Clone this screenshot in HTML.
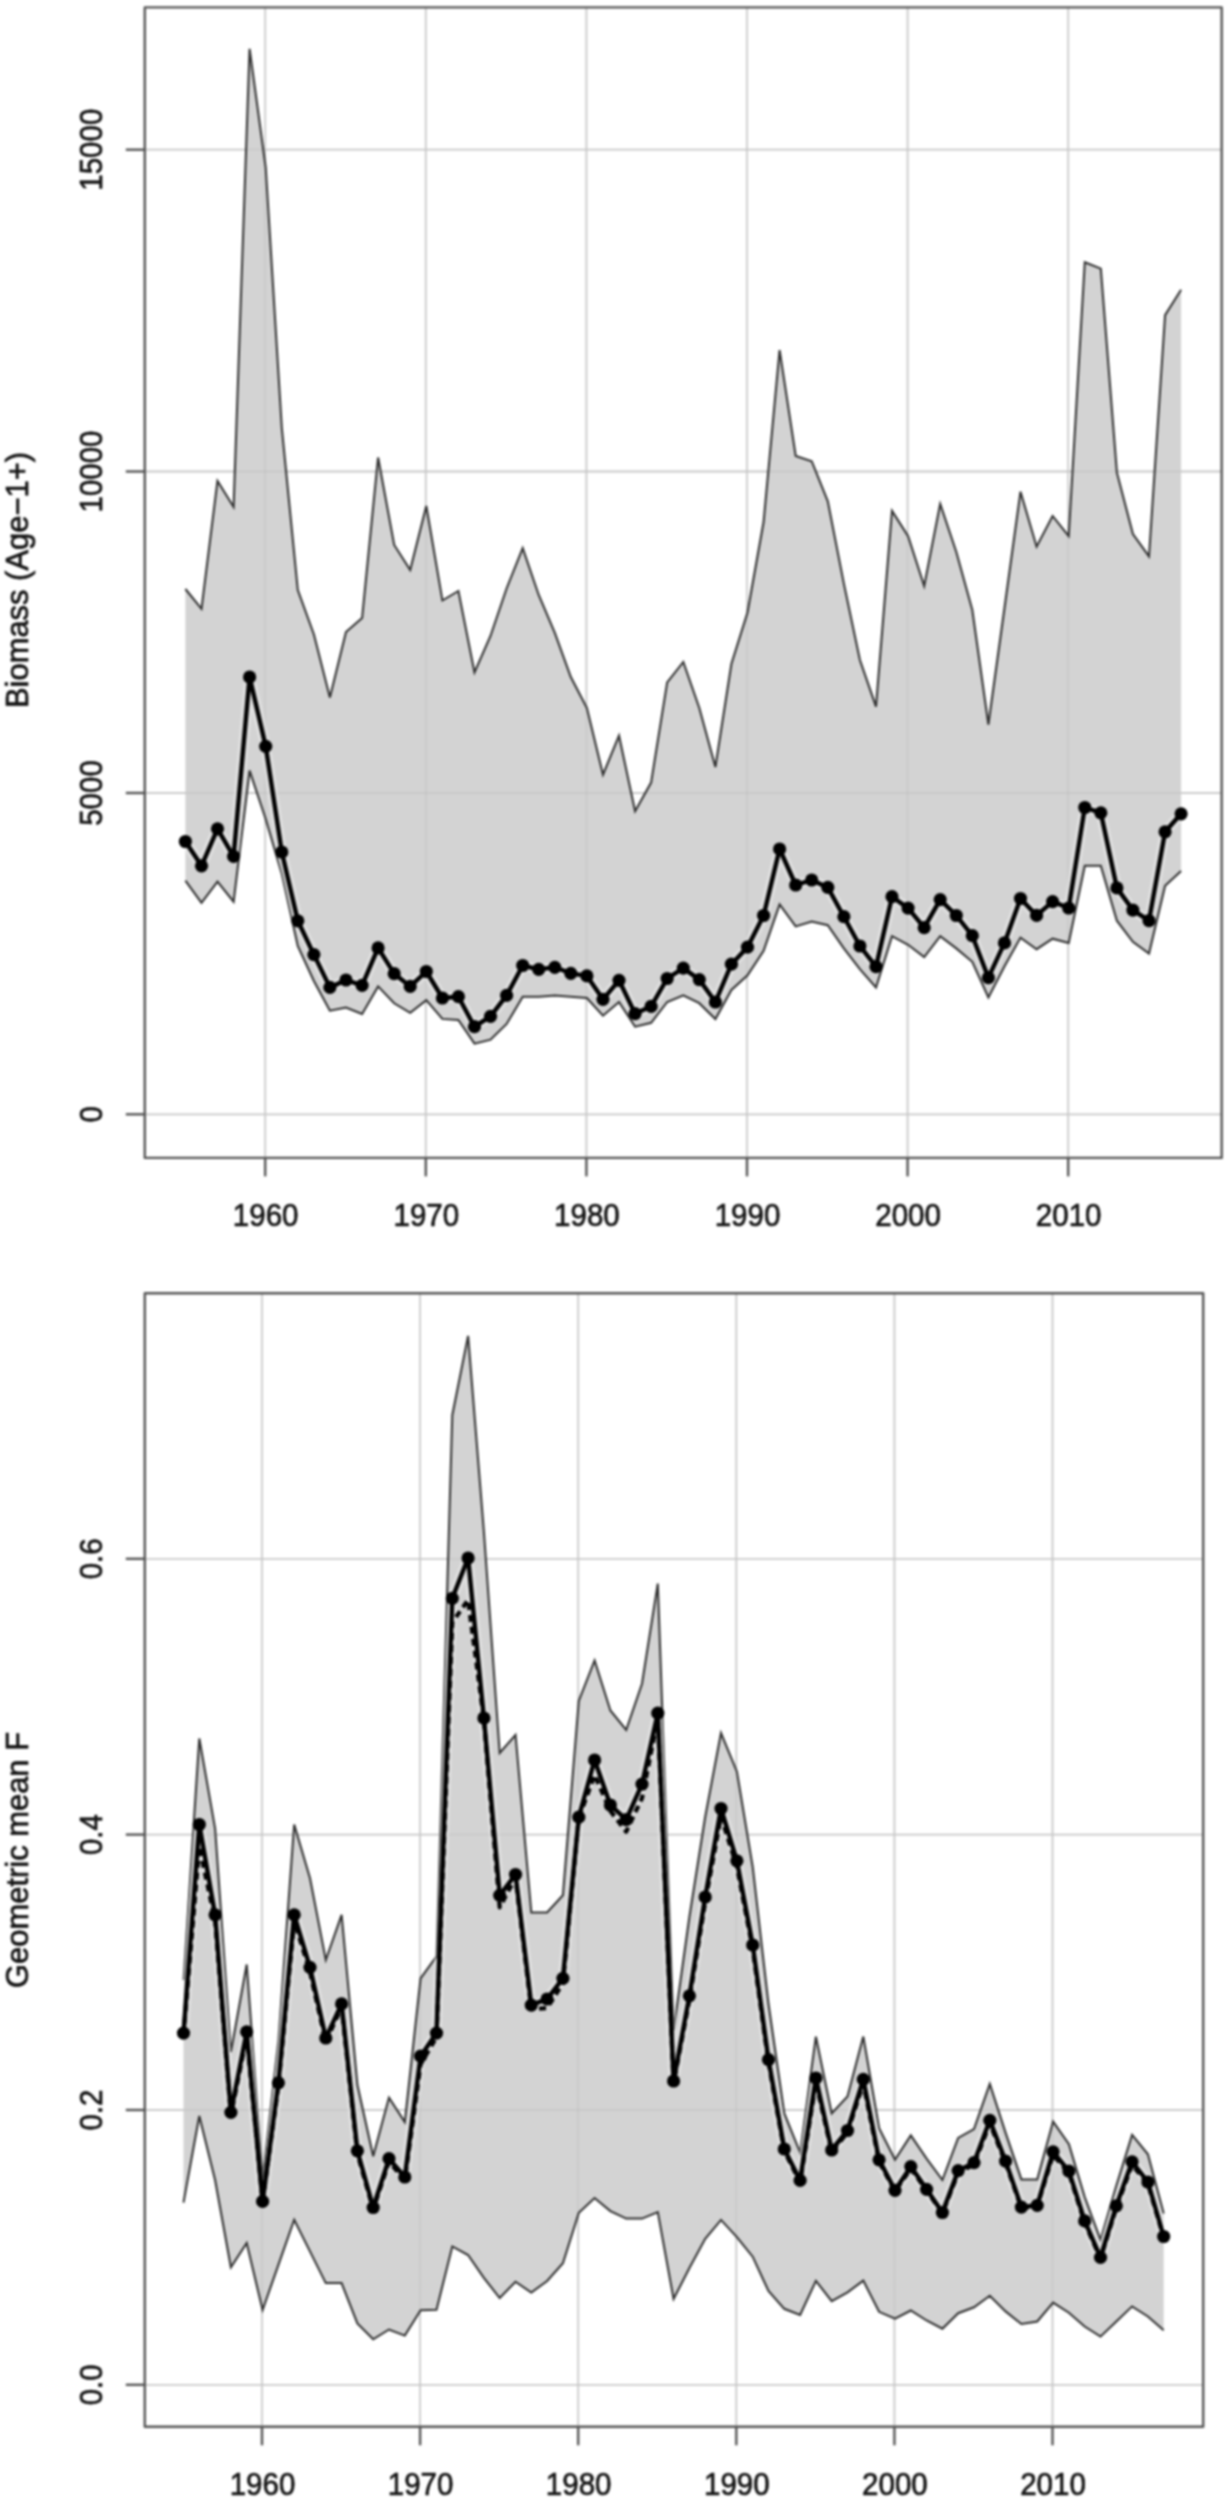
<!DOCTYPE html>
<html lang="en"><head><meta charset="utf-8"><title>Biomass and geometric mean F</title>
<style>
html,body{margin:0;padding:0;background:#fff;}
body{width:1229px;height:2500px;overflow:hidden;}
svg{display:block;filter:blur(0.9px);}
text{font-family:"Liberation Sans", Arial, Helvetica, sans-serif;font-size:31.4px;fill:#141414;stroke:#141414;stroke-width:0.7px;}
.yl{font-size:31.4px;}
.ax{stroke:#555555;stroke-width:2.4;stroke-linejoin:round;stroke-linecap:butt;fill:none;}
.grid{stroke:#dadada;stroke-width:1.8;fill:none;}
.band{fill:#d3d3d3;stroke:none;}
.thin{stroke:#2e2e2e;stroke-width:2.0;fill:none;stroke-linejoin:miter;}
.main{stroke:#000;stroke-width:3.1;fill:none;stroke-linejoin:round;}
.dash{stroke:#000;stroke-width:4.2;fill:none;stroke-dasharray:7 5;stroke-linejoin:round;}
.dot{fill:#000;}
</style></head><body>
<svg width="1229" height="2500" viewBox="0 0 1229 2500">
<rect x="0" y="0" width="1229" height="2500" fill="#ffffff"/>

<line class="grid" x1="265.2" y1="7.4" x2="265.2" y2="1157.9"/>
<line class="grid" x1="425.8" y1="7.4" x2="425.8" y2="1157.9"/>
<line class="grid" x1="586.4" y1="7.4" x2="586.4" y2="1157.9"/>
<line class="grid" x1="747.0" y1="7.4" x2="747.0" y2="1157.9"/>
<line class="grid" x1="907.6" y1="7.4" x2="907.6" y2="1157.9"/>
<line class="grid" x1="1068.2" y1="7.4" x2="1068.2" y2="1157.9"/>
<line class="grid" x1="144.8" y1="149.7" x2="1221.7" y2="149.7"/>
<line class="grid" x1="144.8" y1="471.5" x2="1221.7" y2="471.5"/>
<line class="grid" x1="144.8" y1="793" x2="1221.7" y2="793"/>
<line class="grid" x1="144.8" y1="1114.3" x2="1221.7" y2="1114.3"/>
<polygon class="band" points="185.4,589.0 201.5,608.8 217.5,481.0 233.6,507.0 249.6,48.9 265.7,167.5 281.8,428.0 297.8,590.0 313.9,634.5 329.9,697.6 346.0,632.0 362.1,618.0 378.1,457.5 394.2,545.0 410.2,570.0 426.3,506.0 442.4,600.5 458.4,591.0 474.5,672.5 490.5,636.0 506.6,588.5 522.7,548.2 538.7,595.0 554.8,632.8 570.8,677.0 586.9,708.0 603.0,774.7 619.0,735.7 635.1,811.2 651.1,782.6 667.2,682.3 683.3,662.0 699.3,708.0 715.4,767.0 731.4,664.0 747.5,612.5 763.6,522.0 779.6,350.1 795.7,455.9 811.7,461.2 827.8,501.4 843.9,583.9 859.9,660.0 876.0,706.6 892.0,510.9 908.1,536.3 924.2,586.0 940.2,503.9 956.3,552.0 972.3,610.0 988.4,724.5 1004.5,608.0 1020.5,491.7 1036.6,546.7 1052.6,516.0 1068.7,536.2 1084.8,262.2 1100.8,268.6 1116.9,472.7 1132.9,534.0 1149.0,556.3 1165.1,315.1 1181.1,289.7 1181.1,871.0 1165.1,885.8 1149.0,953.5 1132.9,941.8 1116.9,920.7 1100.8,865.7 1084.8,865.7 1068.7,942.9 1052.6,938.7 1036.6,949.2 1020.5,937.6 1004.5,966.2 988.4,997.5 972.3,961.8 956.3,948.4 940.2,936.2 924.2,957.0 908.1,944.8 892.0,936.2 876.0,987.5 859.9,969.2 843.9,948.4 827.8,925.2 811.7,921.6 795.7,926.4 779.6,904.5 763.6,950.9 747.5,975.3 731.4,990.0 715.4,1019.0 699.3,1003.2 683.3,995.4 667.2,1002.0 651.1,1022.8 635.1,1026.7 619.0,1002.0 603.0,1015.7 586.9,998.0 570.8,996.7 554.8,995.4 538.7,996.7 522.7,996.7 506.6,1024.0 490.5,1039.7 474.5,1043.6 458.4,1020.0 442.4,1018.9 426.3,1000.2 410.2,1012.8 394.2,1003.3 378.1,986.4 362.1,1013.9 346.0,1007.5 329.9,1010.7 313.9,981.0 297.8,946.0 281.8,874.0 265.7,819.0 249.6,770.6 233.6,901.7 217.5,881.6 201.5,902.8 185.4,880.6"/>
<line x1="265.2" y1="7.4" x2="265.2" y2="1157.9" stroke="#c0c0c0" stroke-width="1.8" opacity="0.5"/>
<line x1="425.8" y1="7.4" x2="425.8" y2="1157.9" stroke="#c0c0c0" stroke-width="1.8" opacity="0.5"/>
<line x1="586.4" y1="7.4" x2="586.4" y2="1157.9" stroke="#c0c0c0" stroke-width="1.8" opacity="0.5"/>
<line x1="747.0" y1="7.4" x2="747.0" y2="1157.9" stroke="#c0c0c0" stroke-width="1.8" opacity="0.5"/>
<line x1="907.6" y1="7.4" x2="907.6" y2="1157.9" stroke="#c0c0c0" stroke-width="1.8" opacity="0.5"/>
<line x1="1068.2" y1="7.4" x2="1068.2" y2="1157.9" stroke="#c0c0c0" stroke-width="1.8" opacity="0.5"/>
<line x1="144.8" y1="149.7" x2="1221.7" y2="149.7" stroke="#c0c0c0" stroke-width="1.8" opacity="0.5"/>
<line x1="144.8" y1="471.5" x2="1221.7" y2="471.5" stroke="#c0c0c0" stroke-width="1.8" opacity="0.5"/>
<line x1="144.8" y1="793" x2="1221.7" y2="793" stroke="#c0c0c0" stroke-width="1.8" opacity="0.5"/>
<line x1="144.8" y1="1114.3" x2="1221.7" y2="1114.3" stroke="#c0c0c0" stroke-width="1.8" opacity="0.5"/>
<polyline class="thin" points="185.4,589.0 201.5,608.8 217.5,481.0 233.6,507.0 249.6,48.9 265.7,167.5 281.8,428.0 297.8,590.0 313.9,634.5 329.9,697.6 346.0,632.0 362.1,618.0 378.1,457.5 394.2,545.0 410.2,570.0 426.3,506.0 442.4,600.5 458.4,591.0 474.5,672.5 490.5,636.0 506.6,588.5 522.7,548.2 538.7,595.0 554.8,632.8 570.8,677.0 586.9,708.0 603.0,774.7 619.0,735.7 635.1,811.2 651.1,782.6 667.2,682.3 683.3,662.0 699.3,708.0 715.4,767.0 731.4,664.0 747.5,612.5 763.6,522.0 779.6,350.1 795.7,455.9 811.7,461.2 827.8,501.4 843.9,583.9 859.9,660.0 876.0,706.6 892.0,510.9 908.1,536.3 924.2,586.0 940.2,503.9 956.3,552.0 972.3,610.0 988.4,724.5 1004.5,608.0 1020.5,491.7 1036.6,546.7 1052.6,516.0 1068.7,536.2 1084.8,262.2 1100.8,268.6 1116.9,472.7 1132.9,534.0 1149.0,556.3 1165.1,315.1 1181.1,289.7"/>
<polyline class="thin" points="185.4,880.6 201.5,902.8 217.5,881.6 233.6,901.7 249.6,770.6 265.7,819.0 281.8,874.0 297.8,946.0 313.9,981.0 329.9,1010.7 346.0,1007.5 362.1,1013.9 378.1,986.4 394.2,1003.3 410.2,1012.8 426.3,1000.2 442.4,1018.9 458.4,1020.0 474.5,1043.6 490.5,1039.7 506.6,1024.0 522.7,996.7 538.7,996.7 554.8,995.4 570.8,996.7 586.9,998.0 603.0,1015.7 619.0,1002.0 635.1,1026.7 651.1,1022.8 667.2,1002.0 683.3,995.4 699.3,1003.2 715.4,1019.0 731.4,990.0 747.5,975.3 763.6,950.9 779.6,904.5 795.7,926.4 811.7,921.6 827.8,925.2 843.9,948.4 859.9,969.2 876.0,987.5 892.0,936.2 908.1,944.8 924.2,957.0 940.2,936.2 956.3,948.4 972.3,961.8 988.4,997.5 1004.5,966.2 1020.5,937.6 1036.6,949.2 1052.6,938.7 1068.7,942.9 1084.8,865.7 1100.8,865.7 1116.9,920.7 1132.9,941.8 1149.0,953.5 1165.1,885.8 1181.1,871.0"/>
<polyline points="185.4,841.5 201.5,865.8 217.5,828.8 233.6,856.3 249.6,677.0 265.7,746.3 281.8,852.0 297.8,920.8 313.9,954.6 329.9,987.4 346.0,980.0 362.1,985.3 378.1,947.9 394.2,973.7 410.2,986.4 426.3,971.5 442.4,998.0 458.4,996.7 474.5,1026.7 490.5,1016.3 506.6,995.4 522.7,965.5 538.7,969.4 554.8,967.3 570.8,973.3 586.9,975.9 603.0,999.3 619.0,980.3 635.1,1013.6 651.1,1006.4 667.2,978.5 683.3,968.1 699.3,979.6 715.4,1002.0 731.4,964.2 747.5,947.2 763.6,915.5 779.6,849.0 795.7,885.0 811.7,880.0 827.8,887.4 843.9,916.7 859.9,946.0 876.0,966.7 892.0,896.7 908.1,908.1 924.2,927.7 940.2,899.6 956.3,915.5 972.3,935.7 988.4,977.7 1004.5,942.9 1020.5,898.5 1036.6,915.4 1052.6,901.6 1068.7,908.0 1084.8,807.5 1100.8,812.8 1116.9,887.9 1132.9,910.1 1149.0,920.7 1165.1,831.8 1181.1,813.8" fill="none" stroke="#ffffff" stroke-opacity="0.28" stroke-width="11" stroke-linejoin="round"/>
<polyline class="main" style="stroke-width:4.4" points="185.4,841.5 201.5,865.8 217.5,828.8 233.6,856.3 249.6,677.0 265.7,746.3 281.8,852.0 297.8,920.8 313.9,954.6 329.9,987.4 346.0,980.0 362.1,985.3 378.1,947.9 394.2,973.7 410.2,986.4 426.3,971.5 442.4,998.0 458.4,996.7 474.5,1026.7 490.5,1016.3 506.6,995.4 522.7,965.5 538.7,969.4 554.8,967.3 570.8,973.3 586.9,975.9 603.0,999.3 619.0,980.3 635.1,1013.6 651.1,1006.4 667.2,978.5 683.3,968.1 699.3,979.6 715.4,1002.0 731.4,964.2 747.5,947.2 763.6,915.5 779.6,849.0 795.7,885.0 811.7,880.0 827.8,887.4 843.9,916.7 859.9,946.0 876.0,966.7 892.0,896.7 908.1,908.1 924.2,927.7 940.2,899.6 956.3,915.5 972.3,935.7 988.4,977.7 1004.5,942.9 1020.5,898.5 1036.6,915.4 1052.6,901.6 1068.7,908.0 1084.8,807.5 1100.8,812.8 1116.9,887.9 1132.9,910.1 1149.0,920.7 1165.1,831.8 1181.1,813.8"/>
<circle class="dot" cx="185.4" cy="841.5" r="6.6"/>
<circle class="dot" cx="201.5" cy="865.8" r="6.6"/>
<circle class="dot" cx="217.5" cy="828.8" r="6.6"/>
<circle class="dot" cx="233.6" cy="856.3" r="6.6"/>
<circle class="dot" cx="249.6" cy="677.0" r="6.6"/>
<circle class="dot" cx="265.7" cy="746.3" r="6.6"/>
<circle class="dot" cx="281.8" cy="852.0" r="6.6"/>
<circle class="dot" cx="297.8" cy="920.8" r="6.6"/>
<circle class="dot" cx="313.9" cy="954.6" r="6.6"/>
<circle class="dot" cx="329.9" cy="987.4" r="6.6"/>
<circle class="dot" cx="346.0" cy="980.0" r="6.6"/>
<circle class="dot" cx="362.1" cy="985.3" r="6.6"/>
<circle class="dot" cx="378.1" cy="947.9" r="6.6"/>
<circle class="dot" cx="394.2" cy="973.7" r="6.6"/>
<circle class="dot" cx="410.2" cy="986.4" r="6.6"/>
<circle class="dot" cx="426.3" cy="971.5" r="6.6"/>
<circle class="dot" cx="442.4" cy="998.0" r="6.6"/>
<circle class="dot" cx="458.4" cy="996.7" r="6.6"/>
<circle class="dot" cx="474.5" cy="1026.7" r="6.6"/>
<circle class="dot" cx="490.5" cy="1016.3" r="6.6"/>
<circle class="dot" cx="506.6" cy="995.4" r="6.6"/>
<circle class="dot" cx="522.7" cy="965.5" r="6.6"/>
<circle class="dot" cx="538.7" cy="969.4" r="6.6"/>
<circle class="dot" cx="554.8" cy="967.3" r="6.6"/>
<circle class="dot" cx="570.8" cy="973.3" r="6.6"/>
<circle class="dot" cx="586.9" cy="975.9" r="6.6"/>
<circle class="dot" cx="603.0" cy="999.3" r="6.6"/>
<circle class="dot" cx="619.0" cy="980.3" r="6.6"/>
<circle class="dot" cx="635.1" cy="1013.6" r="6.6"/>
<circle class="dot" cx="651.1" cy="1006.4" r="6.6"/>
<circle class="dot" cx="667.2" cy="978.5" r="6.6"/>
<circle class="dot" cx="683.3" cy="968.1" r="6.6"/>
<circle class="dot" cx="699.3" cy="979.6" r="6.6"/>
<circle class="dot" cx="715.4" cy="1002.0" r="6.6"/>
<circle class="dot" cx="731.4" cy="964.2" r="6.6"/>
<circle class="dot" cx="747.5" cy="947.2" r="6.6"/>
<circle class="dot" cx="763.6" cy="915.5" r="6.6"/>
<circle class="dot" cx="779.6" cy="849.0" r="6.6"/>
<circle class="dot" cx="795.7" cy="885.0" r="6.6"/>
<circle class="dot" cx="811.7" cy="880.0" r="6.6"/>
<circle class="dot" cx="827.8" cy="887.4" r="6.6"/>
<circle class="dot" cx="843.9" cy="916.7" r="6.6"/>
<circle class="dot" cx="859.9" cy="946.0" r="6.6"/>
<circle class="dot" cx="876.0" cy="966.7" r="6.6"/>
<circle class="dot" cx="892.0" cy="896.7" r="6.6"/>
<circle class="dot" cx="908.1" cy="908.1" r="6.6"/>
<circle class="dot" cx="924.2" cy="927.7" r="6.6"/>
<circle class="dot" cx="940.2" cy="899.6" r="6.6"/>
<circle class="dot" cx="956.3" cy="915.5" r="6.6"/>
<circle class="dot" cx="972.3" cy="935.7" r="6.6"/>
<circle class="dot" cx="988.4" cy="977.7" r="6.6"/>
<circle class="dot" cx="1004.5" cy="942.9" r="6.6"/>
<circle class="dot" cx="1020.5" cy="898.5" r="6.6"/>
<circle class="dot" cx="1036.6" cy="915.4" r="6.6"/>
<circle class="dot" cx="1052.6" cy="901.6" r="6.6"/>
<circle class="dot" cx="1068.7" cy="908.0" r="6.6"/>
<circle class="dot" cx="1084.8" cy="807.5" r="6.6"/>
<circle class="dot" cx="1100.8" cy="812.8" r="6.6"/>
<circle class="dot" cx="1116.9" cy="887.9" r="6.6"/>
<circle class="dot" cx="1132.9" cy="910.1" r="6.6"/>
<circle class="dot" cx="1149.0" cy="920.7" r="6.6"/>
<circle class="dot" cx="1165.1" cy="831.8" r="6.6"/>
<circle class="dot" cx="1181.1" cy="813.8" r="6.6"/>
<rect class="ax" x="144.8" y="7.4" width="1076.9" height="1150.5"/>
<line class="ax" x1="265.2" y1="1157.9" x2="265.2" y2="1176.4"/>
<text transform="translate(265.7,1225.9) scale(0.94,1)" text-anchor="middle">1960</text>
<line class="ax" x1="425.8" y1="1157.9" x2="425.8" y2="1176.4"/>
<text transform="translate(426.3,1225.9) scale(0.94,1)" text-anchor="middle">1970</text>
<line class="ax" x1="586.4" y1="1157.9" x2="586.4" y2="1176.4"/>
<text transform="translate(586.9,1225.9) scale(0.94,1)" text-anchor="middle">1980</text>
<line class="ax" x1="747.0" y1="1157.9" x2="747.0" y2="1176.4"/>
<text transform="translate(747.5,1225.9) scale(0.94,1)" text-anchor="middle">1990</text>
<line class="ax" x1="907.6" y1="1157.9" x2="907.6" y2="1176.4"/>
<text transform="translate(908.1,1225.9) scale(0.94,1)" text-anchor="middle">2000</text>
<line class="ax" x1="1068.2" y1="1157.9" x2="1068.2" y2="1176.4"/>
<text transform="translate(1068.7,1225.9) scale(0.94,1)" text-anchor="middle">2010</text>
<line class="ax" x1="125.80000000000001" y1="149.7" x2="144.8" y2="149.7"/>
<text transform="translate(102,149.7) rotate(-90) scale(0.94,1)" text-anchor="middle">15000</text>
<line class="ax" x1="125.80000000000001" y1="471.5" x2="144.8" y2="471.5"/>
<text transform="translate(102,471.5) rotate(-90) scale(0.94,1)" text-anchor="middle">10000</text>
<line class="ax" x1="125.80000000000001" y1="793" x2="144.8" y2="793"/>
<text transform="translate(102,793) rotate(-90) scale(0.94,1)" text-anchor="middle">5000</text>
<line class="ax" x1="125.80000000000001" y1="1114.3" x2="144.8" y2="1114.3"/>
<text transform="translate(102,1114.3) rotate(-90) scale(0.94,1)" text-anchor="middle">0</text>
<text class="yl" transform="translate(27.8,580) rotate(-90) scale(0.985,1)" text-anchor="middle">Biomass (Age−1+)</text>
<line class="grid" x1="262.0" y1="1293.3" x2="262.0" y2="2426.8"/>
<line class="grid" x1="420.1" y1="1293.3" x2="420.1" y2="2426.8"/>
<line class="grid" x1="578.2" y1="1293.3" x2="578.2" y2="2426.8"/>
<line class="grid" x1="736.3" y1="1293.3" x2="736.3" y2="2426.8"/>
<line class="grid" x1="894.4" y1="1293.3" x2="894.4" y2="2426.8"/>
<line class="grid" x1="1052.5" y1="1293.3" x2="1052.5" y2="2426.8"/>
<line class="grid" x1="144.8" y1="1558.8" x2="1203.2" y2="1558.8"/>
<line class="grid" x1="144.8" y1="1834.6" x2="1203.2" y2="1834.6"/>
<line class="grid" x1="144.8" y1="2110" x2="1203.2" y2="2110"/>
<line class="grid" x1="144.8" y1="2384.8" x2="1203.2" y2="2384.8"/>
<polygon class="band" points="183.5,1980.0 199.3,1738.5 215.1,1828.5 230.9,2052.0 246.7,1964.5 262.6,2178.0 278.4,2040.0 294.2,1824.5 310.0,1878.2 325.8,1960.0 341.6,1914.8 357.4,2085.0 373.2,2156.2 389.0,2097.6 404.8,2122.0 420.6,1978.3 436.5,1956.3 452.3,1415.2 468.1,1335.9 483.9,1532.0 499.7,1753.0 515.5,1735.0 531.3,1912.4 547.1,1912.4 562.9,1895.3 578.8,1701.0 594.6,1660.5 610.4,1710.5 626.2,1730.0 642.0,1683.7 657.8,1583.6 673.6,2030.0 689.4,1917.0 705.2,1817.0 721.0,1733.0 736.9,1771.7 752.7,1867.0 768.5,2004.0 784.3,2113.4 800.1,2152.5 815.9,2036.6 831.7,2113.4 847.5,2096.4 863.3,2036.6 879.1,2128.1 895.0,2159.8 910.8,2135.4 926.6,2158.6 942.4,2180.0 958.2,2138.0 974.0,2129.1 989.8,2083.9 1005.6,2132.9 1021.4,2179.4 1037.2,2179.4 1053.1,2121.6 1068.9,2144.2 1084.7,2197.0 1100.5,2239.8 1116.3,2185.7 1132.1,2134.9 1147.9,2154.3 1163.7,2213.4 1163.7,2330.3 1147.9,2316.5 1132.1,2306.4 1116.3,2321.5 1100.5,2336.6 1084.7,2326.5 1068.9,2312.7 1053.1,2302.6 1037.2,2321.5 1021.4,2324.0 1005.6,2311.4 989.8,2295.8 974.0,2307.3 958.2,2313.2 942.4,2328.7 926.6,2320.5 910.8,2310.5 895.0,2318.7 879.1,2311.8 863.3,2280.6 847.5,2292.3 831.7,2301.1 815.9,2280.8 800.1,2315.0 784.3,2308.8 768.5,2291.0 752.7,2256.7 736.9,2237.1 721.0,2219.9 705.2,2238.8 689.4,2268.0 673.6,2299.0 657.8,2212.1 642.0,2218.6 626.2,2218.6 610.4,2211.1 594.6,2198.1 578.8,2212.7 562.9,2263.2 547.1,2281.0 531.3,2292.5 515.5,2281.7 499.7,2298.0 483.9,2277.8 468.1,2255.0 452.3,2246.4 436.5,2309.8 420.6,2310.2 404.8,2335.6 389.0,2329.5 373.2,2339.3 357.4,2323.4 341.6,2283.1 325.8,2283.1 310.0,2251.4 294.2,2219.7 278.4,2264.8 262.6,2310.0 246.7,2242.9 230.9,2267.3 215.1,2180.0 199.3,2116.0 183.5,2202.6"/>
<line x1="262.0" y1="1293.3" x2="262.0" y2="2426.8" stroke="#c0c0c0" stroke-width="1.8" opacity="0.5"/>
<line x1="420.1" y1="1293.3" x2="420.1" y2="2426.8" stroke="#c0c0c0" stroke-width="1.8" opacity="0.5"/>
<line x1="578.2" y1="1293.3" x2="578.2" y2="2426.8" stroke="#c0c0c0" stroke-width="1.8" opacity="0.5"/>
<line x1="736.3" y1="1293.3" x2="736.3" y2="2426.8" stroke="#c0c0c0" stroke-width="1.8" opacity="0.5"/>
<line x1="894.4" y1="1293.3" x2="894.4" y2="2426.8" stroke="#c0c0c0" stroke-width="1.8" opacity="0.5"/>
<line x1="1052.5" y1="1293.3" x2="1052.5" y2="2426.8" stroke="#c0c0c0" stroke-width="1.8" opacity="0.5"/>
<line x1="144.8" y1="1558.8" x2="1203.2" y2="1558.8" stroke="#c0c0c0" stroke-width="1.8" opacity="0.5"/>
<line x1="144.8" y1="1834.6" x2="1203.2" y2="1834.6" stroke="#c0c0c0" stroke-width="1.8" opacity="0.5"/>
<line x1="144.8" y1="2110" x2="1203.2" y2="2110" stroke="#c0c0c0" stroke-width="1.8" opacity="0.5"/>
<line x1="144.8" y1="2384.8" x2="1203.2" y2="2384.8" stroke="#c0c0c0" stroke-width="1.8" opacity="0.5"/>
<polyline class="thin" points="183.5,1980.0 199.3,1738.5 215.1,1828.5 230.9,2052.0 246.7,1964.5 262.6,2178.0 278.4,2040.0 294.2,1824.5 310.0,1878.2 325.8,1960.0 341.6,1914.8 357.4,2085.0 373.2,2156.2 389.0,2097.6 404.8,2122.0 420.6,1978.3 436.5,1956.3 452.3,1415.2 468.1,1335.9 483.9,1532.0 499.7,1753.0 515.5,1735.0 531.3,1912.4 547.1,1912.4 562.9,1895.3 578.8,1701.0 594.6,1660.5 610.4,1710.5 626.2,1730.0 642.0,1683.7 657.8,1583.6 673.6,2030.0 689.4,1917.0 705.2,1817.0 721.0,1733.0 736.9,1771.7 752.7,1867.0 768.5,2004.0 784.3,2113.4 800.1,2152.5 815.9,2036.6 831.7,2113.4 847.5,2096.4 863.3,2036.6 879.1,2128.1 895.0,2159.8 910.8,2135.4 926.6,2158.6 942.4,2180.0 958.2,2138.0 974.0,2129.1 989.8,2083.9 1005.6,2132.9 1021.4,2179.4 1037.2,2179.4 1053.1,2121.6 1068.9,2144.2 1084.7,2197.0 1100.5,2239.8 1116.3,2185.7 1132.1,2134.9 1147.9,2154.3 1163.7,2213.4"/>
<polyline class="thin" points="183.5,2202.6 199.3,2116.0 215.1,2180.0 230.9,2267.3 246.7,2242.9 262.6,2310.0 278.4,2264.8 294.2,2219.7 310.0,2251.4 325.8,2283.1 341.6,2283.1 357.4,2323.4 373.2,2339.3 389.0,2329.5 404.8,2335.6 420.6,2310.2 436.5,2309.8 452.3,2246.4 468.1,2255.0 483.9,2277.8 499.7,2298.0 515.5,2281.7 531.3,2292.5 547.1,2281.0 562.9,2263.2 578.8,2212.7 594.6,2198.1 610.4,2211.1 626.2,2218.6 642.0,2218.6 657.8,2212.1 673.6,2299.0 689.4,2268.0 705.2,2238.8 721.0,2219.9 736.9,2237.1 752.7,2256.7 768.5,2291.0 784.3,2308.8 800.1,2315.0 815.9,2280.8 831.7,2301.1 847.5,2292.3 863.3,2280.6 879.1,2311.8 895.0,2318.7 910.8,2310.5 926.6,2320.5 942.4,2328.7 958.2,2313.2 974.0,2307.3 989.8,2295.8 1005.6,2311.4 1021.4,2324.0 1037.2,2321.5 1053.1,2302.6 1068.9,2312.7 1084.7,2326.5 1100.5,2336.6 1116.3,2321.5 1132.1,2306.4 1147.9,2316.5 1163.7,2330.3"/>
<polyline points="183.5,2033.1 199.3,1824.5 215.1,1914.8 230.9,2112.3 246.7,2031.8 262.6,2201.4 278.4,2082.8 294.2,1914.8 310.0,1967.3 325.8,2038.0 341.6,2003.9 357.4,2150.8 373.2,2207.5 389.0,2158.7 404.8,2177.0 420.6,2056.2 436.5,2033.1 452.3,1598.3 468.1,1558.0 483.9,1718.0 499.7,1895.3 515.5,1874.5 531.3,2005.1 547.1,1999.0 562.9,1978.3 578.8,1817.2 594.6,1760.0 610.4,1805.0 626.2,1819.6 642.0,1784.2 657.8,1713.2 673.6,2081.0 689.4,1995.8 705.2,1897.0 721.0,1808.5 736.9,1860.8 752.7,1945.0 768.5,2059.7 784.3,2149.0 800.1,2180.4 815.9,2078.0 831.7,2150.0 847.5,2130.5 863.3,2079.3 879.1,2159.8 895.0,2190.3 910.8,2166.6 926.6,2189.3 942.4,2212.5 958.2,2170.6 974.0,2162.6 989.8,2120.3 1005.6,2161.1 1021.4,2207.1 1037.2,2205.3 1053.1,2151.8 1068.9,2171.1 1084.7,2220.9 1100.5,2257.4 1116.3,2205.8 1132.1,2161.8 1147.9,2182.0 1163.7,2236.5" fill="none" stroke="#ffffff" stroke-opacity="0.28" stroke-width="11" stroke-linejoin="round"/>
<polyline class="dash" points="183.5,2035.1 199.3,1846.5 215.1,1920.8 230.9,2115.3 246.7,2035.8 262.6,2201.4 278.4,2085.8 294.2,1920.8 310.0,1972.3 325.8,2042.0 341.6,2006.9 357.4,2153.8 373.2,2209.5 389.0,2161.7 404.8,2180.0 420.6,2064.2 436.5,2037.1 452.3,1622.3 468.1,1600.0 483.9,1720.0 499.7,1907.3 515.5,1877.5 531.3,2009.1 547.1,2008.0 562.9,1983.3 578.8,1818.2 594.6,1775.0 610.4,1811.0 626.2,1831.6 642.0,1798.2 657.8,1718.2 673.6,2083.0 689.4,1999.8 705.2,1902.0 721.0,1816.5 736.9,1866.8 752.7,1949.0 768.5,2062.7 784.3,2151.0 800.1,2182.4 815.9,2082.0 831.7,2152.0 847.5,2132.5 863.3,2083.3 879.1,2161.8 895.0,2191.3 910.8,2168.6 926.6,2190.3 942.4,2213.5 958.2,2172.6 974.0,2164.6 989.8,2123.3 1005.6,2163.1 1021.4,2208.1 1037.2,2206.3 1053.1,2154.8 1068.9,2173.1 1084.7,2222.9 1100.5,2258.4 1116.3,2207.8 1132.1,2164.8 1147.9,2184.0 1163.7,2237.5"/>
<polyline class="main" style="stroke-width:4.4" points="183.5,2033.1 199.3,1824.5 215.1,1914.8 230.9,2112.3 246.7,2031.8 262.6,2201.4 278.4,2082.8 294.2,1914.8 310.0,1967.3 325.8,2038.0 341.6,2003.9 357.4,2150.8 373.2,2207.5 389.0,2158.7 404.8,2177.0 420.6,2056.2 436.5,2033.1 452.3,1598.3 468.1,1558.0 483.9,1718.0 499.7,1895.3 515.5,1874.5 531.3,2005.1 547.1,1999.0 562.9,1978.3 578.8,1817.2 594.6,1760.0 610.4,1805.0 626.2,1819.6 642.0,1784.2 657.8,1713.2 673.6,2081.0 689.4,1995.8 705.2,1897.0 721.0,1808.5 736.9,1860.8 752.7,1945.0 768.5,2059.7 784.3,2149.0 800.1,2180.4 815.9,2078.0 831.7,2150.0 847.5,2130.5 863.3,2079.3 879.1,2159.8 895.0,2190.3 910.8,2166.6 926.6,2189.3 942.4,2212.5 958.2,2170.6 974.0,2162.6 989.8,2120.3 1005.6,2161.1 1021.4,2207.1 1037.2,2205.3 1053.1,2151.8 1068.9,2171.1 1084.7,2220.9 1100.5,2257.4 1116.3,2205.8 1132.1,2161.8 1147.9,2182.0 1163.7,2236.5"/>
<circle class="dot" cx="183.5" cy="2033.1" r="6.6"/>
<circle class="dot" cx="199.3" cy="1824.5" r="6.6"/>
<circle class="dot" cx="215.1" cy="1914.8" r="6.6"/>
<circle class="dot" cx="230.9" cy="2112.3" r="6.6"/>
<circle class="dot" cx="246.7" cy="2031.8" r="6.6"/>
<circle class="dot" cx="262.6" cy="2201.4" r="6.6"/>
<circle class="dot" cx="278.4" cy="2082.8" r="6.6"/>
<circle class="dot" cx="294.2" cy="1914.8" r="6.6"/>
<circle class="dot" cx="310.0" cy="1967.3" r="6.6"/>
<circle class="dot" cx="325.8" cy="2038.0" r="6.6"/>
<circle class="dot" cx="341.6" cy="2003.9" r="6.6"/>
<circle class="dot" cx="357.4" cy="2150.8" r="6.6"/>
<circle class="dot" cx="373.2" cy="2207.5" r="6.6"/>
<circle class="dot" cx="389.0" cy="2158.7" r="6.6"/>
<circle class="dot" cx="404.8" cy="2177.0" r="6.6"/>
<circle class="dot" cx="420.6" cy="2056.2" r="6.6"/>
<circle class="dot" cx="436.5" cy="2033.1" r="6.6"/>
<circle class="dot" cx="452.3" cy="1598.3" r="6.6"/>
<circle class="dot" cx="468.1" cy="1558.0" r="6.6"/>
<circle class="dot" cx="483.9" cy="1718.0" r="6.6"/>
<circle class="dot" cx="499.7" cy="1895.3" r="6.6"/>
<circle class="dot" cx="515.5" cy="1874.5" r="6.6"/>
<circle class="dot" cx="531.3" cy="2005.1" r="6.6"/>
<circle class="dot" cx="547.1" cy="1999.0" r="6.6"/>
<circle class="dot" cx="562.9" cy="1978.3" r="6.6"/>
<circle class="dot" cx="578.8" cy="1817.2" r="6.6"/>
<circle class="dot" cx="594.6" cy="1760.0" r="6.6"/>
<circle class="dot" cx="610.4" cy="1805.0" r="6.6"/>
<circle class="dot" cx="626.2" cy="1819.6" r="6.6"/>
<circle class="dot" cx="642.0" cy="1784.2" r="6.6"/>
<circle class="dot" cx="657.8" cy="1713.2" r="6.6"/>
<circle class="dot" cx="673.6" cy="2081.0" r="6.6"/>
<circle class="dot" cx="689.4" cy="1995.8" r="6.6"/>
<circle class="dot" cx="705.2" cy="1897.0" r="6.6"/>
<circle class="dot" cx="721.0" cy="1808.5" r="6.6"/>
<circle class="dot" cx="736.9" cy="1860.8" r="6.6"/>
<circle class="dot" cx="752.7" cy="1945.0" r="6.6"/>
<circle class="dot" cx="768.5" cy="2059.7" r="6.6"/>
<circle class="dot" cx="784.3" cy="2149.0" r="6.6"/>
<circle class="dot" cx="800.1" cy="2180.4" r="6.6"/>
<circle class="dot" cx="815.9" cy="2078.0" r="6.6"/>
<circle class="dot" cx="831.7" cy="2150.0" r="6.6"/>
<circle class="dot" cx="847.5" cy="2130.5" r="6.6"/>
<circle class="dot" cx="863.3" cy="2079.3" r="6.6"/>
<circle class="dot" cx="879.1" cy="2159.8" r="6.6"/>
<circle class="dot" cx="895.0" cy="2190.3" r="6.6"/>
<circle class="dot" cx="910.8" cy="2166.6" r="6.6"/>
<circle class="dot" cx="926.6" cy="2189.3" r="6.6"/>
<circle class="dot" cx="942.4" cy="2212.5" r="6.6"/>
<circle class="dot" cx="958.2" cy="2170.6" r="6.6"/>
<circle class="dot" cx="974.0" cy="2162.6" r="6.6"/>
<circle class="dot" cx="989.8" cy="2120.3" r="6.6"/>
<circle class="dot" cx="1005.6" cy="2161.1" r="6.6"/>
<circle class="dot" cx="1021.4" cy="2207.1" r="6.6"/>
<circle class="dot" cx="1037.2" cy="2205.3" r="6.6"/>
<circle class="dot" cx="1053.1" cy="2151.8" r="6.6"/>
<circle class="dot" cx="1068.9" cy="2171.1" r="6.6"/>
<circle class="dot" cx="1084.7" cy="2220.9" r="6.6"/>
<circle class="dot" cx="1100.5" cy="2257.4" r="6.6"/>
<circle class="dot" cx="1116.3" cy="2205.8" r="6.6"/>
<circle class="dot" cx="1132.1" cy="2161.8" r="6.6"/>
<circle class="dot" cx="1147.9" cy="2182.0" r="6.6"/>
<circle class="dot" cx="1163.7" cy="2236.5" r="6.6"/>
<rect class="ax" x="144.8" y="1293.3" width="1058.4" height="1133.5000000000002"/>
<line class="ax" x1="262.0" y1="2426.8" x2="262.0" y2="2445.3"/>
<text transform="translate(262.5,2494.8) scale(0.94,1)" text-anchor="middle">1960</text>
<line class="ax" x1="420.1" y1="2426.8" x2="420.1" y2="2445.3"/>
<text transform="translate(420.6,2494.8) scale(0.94,1)" text-anchor="middle">1970</text>
<line class="ax" x1="578.2" y1="2426.8" x2="578.2" y2="2445.3"/>
<text transform="translate(578.7,2494.8) scale(0.94,1)" text-anchor="middle">1980</text>
<line class="ax" x1="736.3" y1="2426.8" x2="736.3" y2="2445.3"/>
<text transform="translate(736.8,2494.8) scale(0.94,1)" text-anchor="middle">1990</text>
<line class="ax" x1="894.4" y1="2426.8" x2="894.4" y2="2445.3"/>
<text transform="translate(894.9,2494.8) scale(0.94,1)" text-anchor="middle">2000</text>
<line class="ax" x1="1052.5" y1="2426.8" x2="1052.5" y2="2445.3"/>
<text transform="translate(1053.0,2494.8) scale(0.94,1)" text-anchor="middle">2010</text>
<line class="ax" x1="125.80000000000001" y1="1558.8" x2="144.8" y2="1558.8"/>
<text transform="translate(102,1558.8) rotate(-90) scale(0.94,1)" text-anchor="middle">0.6</text>
<line class="ax" x1="125.80000000000001" y1="1834.6" x2="144.8" y2="1834.6"/>
<text transform="translate(102,1834.6) rotate(-90) scale(0.94,1)" text-anchor="middle">0.4</text>
<line class="ax" x1="125.80000000000001" y1="2110" x2="144.8" y2="2110"/>
<text transform="translate(102,2110) rotate(-90) scale(0.94,1)" text-anchor="middle">0.2</text>
<line class="ax" x1="125.80000000000001" y1="2384.8" x2="144.8" y2="2384.8"/>
<text transform="translate(102,2384.8) rotate(-90) scale(0.94,1)" text-anchor="middle">0.0</text>
<text class="yl" transform="translate(27.8,1860) rotate(-90) scale(0.985,1)" text-anchor="middle">Geometric mean F</text>
</svg>
</body></html>
